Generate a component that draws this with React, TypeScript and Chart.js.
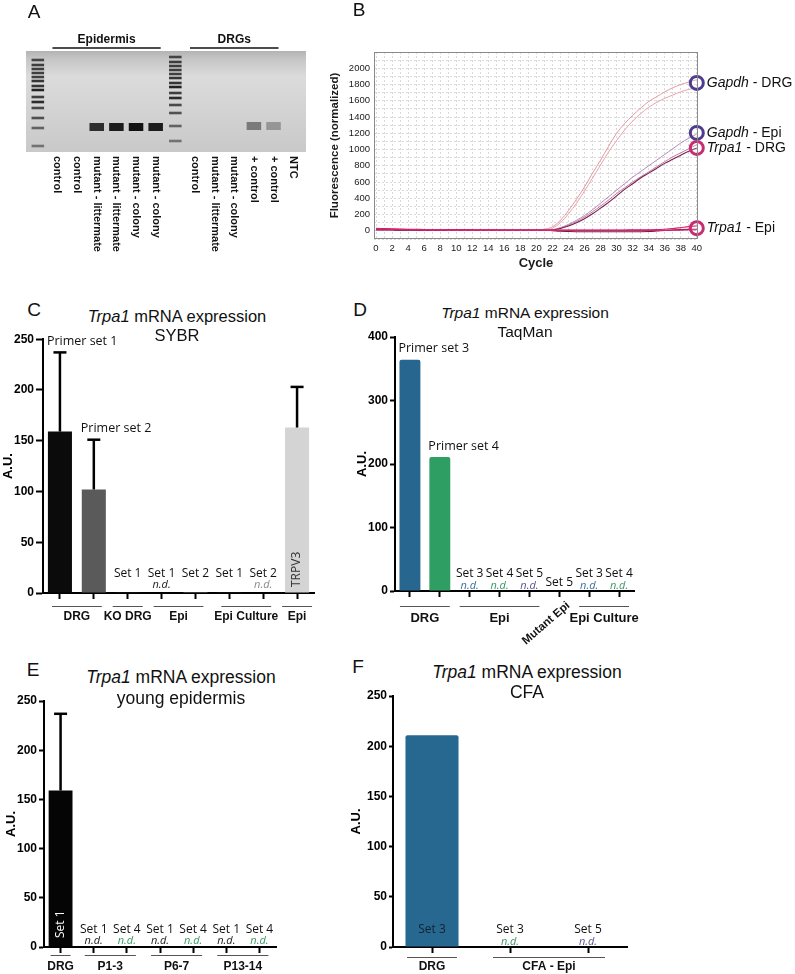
import React, { useEffect, useRef } from "react";
import { Chart, registerables } from "chart.js";
Chart.register(...registerables);

const SANS = '"Liberation Sans", Arial, Helvetica, sans-serif';
const HUM = '"Open Sans", "Noto Sans", sans-serif';

// ---------------- Panel A: gel ----------------
const gelLaneLabels = ["", "control", "control", "mutant - littermate", "mutant - littermate", "mutant - colony", "mutant - colony", "", "control", "mutant - littermate", "mutant - colony", "+ control", "+ control", "NTC"];
const gelHeaderNames = ["Epidermis", "DRGs"];
const gelHeaderStart = [1, 8];
const gelHeaderEnd = [6, 12];
const ladder1Bands = [9, 14, 18, 22, 26, 30, 35, 39, 46, 51, 57, 67, 77, 95];
const ladder2Bands = [6, 11, 15, 19, 23, 27, 32, 36, 42, 47, 54, 62, 75, 90];
const ladderStrength = [0.75, 0.8, 0.8, 0.8, 0.8, 0.85, 0.85, 0.95, 0.8, 0.9, 0.75, 0.7, 0.6, 0.5];
const productBand = [null, null, null, 76, 76, 76, 76, null, null, null, null, 75, 75, null];
const productStrength = [0, 0, 0, 0.85, 0.95, 1, 0.95, 0, 0, 0, 0, 0.45, 0.3, 0];

// ---------------- Panel B: qPCR curves ----------------
const cycles = [0, 1, 2, 3, 4, 5, 6, 7, 8, 9, 10, 11, 12, 13, 14, 15, 16, 17, 18, 19, 20, 21, 22, 23, 24, 25, 26, 27, 28, 29, 30, 31, 32, 33, 34, 35, 36, 37, 38, 39, 40];
const gapdhDrgA = [25, 22, 20, 18, 16, 15, 14, 13, 12, 12, 11, 11, 10, 10, 10, 10, 10, 10, 10, 11, 12, 20, 50, 130, 250, 390, 540, 710, 870, 1040, 1200, 1320, 1420, 1510, 1590, 1650, 1710, 1760, 1800, 1830, 1860];
const gapdhDrgB = [20, 18, 17, 16, 15, 14, 13, 12, 12, 11, 11, 10, 10, 10, 10, 10, 10, 10, 10, 10, 11, 15, 35, 100, 210, 340, 490, 650, 810, 970, 1110, 1240, 1350, 1440, 1520, 1580, 1630, 1670, 1710, 1740, 1760];
const gapdhEpi = [15, 14, 13, 12, 12, 11, 11, 10, 10, 10, 10, 10, 10, 10, 10, 10, 10, 10, 10, 10, 10, 11, 15, 40, 80, 130, 190, 260, 340, 420, 500, 580, 660, 730, 800, 870, 940, 1010, 1080, 1140, 1190];
const trpa1DrgA = [10, 10, 10, 9, 9, 9, 9, 9, 8, 8, 8, 8, 8, 8, 8, 8, 8, 8, 8, 8, 8, 8, 10, 30, 60, 100, 150, 210, 280, 350, 430, 510, 580, 650, 710, 770, 830, 880, 930, 980, 1020];
const trpa1DrgB = [12, 12, 11, 11, 10, 10, 10, 10, 10, 9, 9, 9, 9, 9, 9, 9, 9, 9, 9, 9, 9, 9, 12, 35, 70, 115, 170, 235, 305, 380, 460, 530, 600, 665, 725, 790, 850, 910, 960, 1010, 1060];
const trpa1EpiA = [30, 28, 25, 22, 20, 18, 17, 16, 15, 14, 13, 13, 12, 12, 12, 11, 11, 11, 11, 11, 11, 11, 11, 11, 11, 11, 11, 11, 11, 11, 11, 11, 12, 12, 13, 15, 20, 28, 40, 52, 62];
const trpa1EpiB = [18, 17, 16, 15, 14, 13, 12, 11, 10, 10, 9, 9, 9, 8, 8, 8, 8, 8, 8, 8, 8, 8, 2, -5, -8, -10, -10, -10, -10, -10, -10, -10, -10, -10, -8, -2, 5, 10, 15, 18, 20];
const trpa1EpiC = [22, 20, 18, 16, 14, 12, 10, 9, 8, 7, 6, 6, 5, 5, 5, 5, 5, 5, 5, 5, 5, 5, 5, 5, 5, 5, 5, 5, 5, 5, 5, 5, 5, 5, 5, 6, 7, 8, 10, 12, 14];
const markerGene = ["Gapdh", "Gapdh", "Trpa1", "Trpa1"];
const markerTissue = ["DRG", "Epi", "DRG", "Epi"];
const markerCycle = [40, 40, 40, 40];
const markerY = [1820, 1205, 1020, 33];

// ---------------- Panel C: SYBR ----------------
const cCategories = ["DRG set 1", "DRG set 2", "KO DRG set 1", "Epi set 1", "Epi set 2", "Epi Culture set 1", "Epi Culture set 2", "Epi TRPV3"];
const cValues = [159, 102, 1, 0, 1, 1, 0, 163];
const cErrors = [237, 151, null, null, null, null, null, 203];
const cAnnot = ["Primer set 1", "Primer set 2", "Set 1", "Set 1", "Set 2", "Set 1", "Set 2", "TRPV3"];
const cNotDetected = [false, false, false, true, false, false, true, false];
const cGroupNames = ["DRG", "KO DRG", "Epi", "Epi Culture", "Epi"];
const cGroupStart = [0, 2, 3, 5, 7];
const cGroupEnd = [1, 2, 4, 6, 7];

// ---------------- Panel D: TaqMan ----------------
const dCategories = ["DRG set 3", "DRG set 4", "Epi set 3", "Epi set 4", "Epi set 5", "Mutant Epi set 5", "Epi Culture set 3", "Epi Culture set 4"];
const dValues = [364, 211, 0, 0, 0, 0, 0, 0];
const dErrors = [null, null, null, null, null, null, null, null];
const dAnnot = ["Primer set 3", "Primer set 4", "Set 3", "Set 4", "Set 5", "Set 5", "Set 3", "Set 4"];
const dNotDetected = [false, false, true, true, true, false, true, true];
const dGroupNames = ["DRG", "Epi", "Mutant Epi", "Epi Culture"];
const dGroupStart = [0, 2, 5, 6];
const dGroupEnd = [1, 4, 5, 7];

// ---------------- Panel E: young epidermis ----------------
const eCategories = ["DRG set 1", "P1-3 set 1", "P1-3 set 4", "P6-7 set 1", "P6-7 set 4", "P13-14 set 1", "P13-14 set 4"];
const eValues = [159, 0, 0, 0, 0, 0, 0];
const eErrors = [237, null, null, null, null, null, null];
const eAnnot = ["Set 1", "Set 1", "Set 4", "Set 1", "Set 4", "Set 1", "Set 4"];
const eNotDetected = [false, true, true, true, true, true, true];
const eGroupNames = ["DRG", "P1-3", "P6-7", "P13-14"];
const eGroupStart = [0, 1, 3, 5];
const eGroupEnd = [0, 2, 4, 6];

// ---------------- Panel F: CFA ----------------
const fCategories = ["DRG set 3", "CFA-Epi set 3", "CFA-Epi set 5"];
const fValues = [211, 0, 0];
const fErrors = [null, null, null];
const fAnnot = ["Set 3", "Set 3", "Set 5"];
const fNotDetected = [false, true, true];
const fGroupNames = ["DRG", "CFA - Epi"];
const fGroupStart = [0, 1];
const fGroupEnd = [0, 2];

// ---------------- Styles ----------------
const BLUE = "#27668f";
const GREEN = "#2f9e62";
const ND_BLUE = "#3f6f9f";
const ND_GREEN = "#3a9a68";
const ND_PURPLE = "#5d5596";

type Geo = {
  padL: number; padR: number; padT: number; yW: number; xH: number; titlePad: number; tickLen: number;
  setOff: number; ndOff: number; lowOff: number; lineOff: number; textOff: number; extS: number; extM: number;
  barPct: number; radius: number; rotOff: number; groupFont: number; primerOff: number;
};

type BarSpec = {
  labels: string[]; values: number[]; errors: (number | null)[]; colors: string[];
  annot: string[]; kinds: string[]; nd: boolean[]; ndColors: string[]; inColor: string;
  groupNames: string[]; groupStart: number[]; groupEnd: number[]; groupRot: boolean[];
  yMax: number; yStep: number; geo: Geo;
};

function buildBar(p: BarSpec) {
  const g = p.geo;
  const plugin = {
    id: "annot",
    afterDatasetsDraw(chart: any) {
      const ctx = chart.ctx;
      const xs = chart.scales.x;
      const ys = chart.scales.y;
      const meta = chart.getDatasetMeta(0);
      const axisY = ys.getPixelForValue(0);
      ctx.save();
      p.errors.forEach((e, i) => {
        if (e == null) return;
        const bar = meta.data[i];
        const top = ys.getPixelForValue(e);
        ctx.strokeStyle = "#000";
        ctx.lineWidth = 2.5;
        ctx.lineCap = "butt";
        ctx.beginPath();
        ctx.moveTo(bar.x, bar.y);
        ctx.lineTo(bar.x, top);
        ctx.stroke();
        ctx.beginPath();
        ctx.moveTo(bar.x - 6.5, top);
        ctx.lineTo(bar.x + 6.5, top);
        ctx.stroke();
      });
      p.annot.forEach((txt, i) => {
        const kind = p.kinds[i];
        const bar = meta.data[i];
        const x = xs.getPixelForValue(i);
        ctx.textBaseline = "middle";
        if (kind === "primer") {
          const ref = p.errors[i] ?? p.values[i];
          ctx.font = `12.5px ${HUM}`;
          ctx.fillStyle = "#111";
          ctx.textAlign = "left";
          ctx.fillText(txt, bar.x - bar.width / 2 - 1, ys.getPixelForValue(ref) - g.primerOff);
        } else if (kind === "set" || kind === "setLow") {
          ctx.font = `12px ${HUM}`;
          ctx.fillStyle = "#111";
          ctx.textAlign = "center";
          ctx.fillText(txt, x, axisY - (kind === "setLow" ? g.lowOff : g.setOff));
          if (p.nd[i]) {
            ctx.font = `italic 11px ${HUM}`;
            ctx.fillStyle = p.ndColors[i];
            ctx.fillText("n.d.", x, axisY - g.ndOff);
          }
        } else if (kind === "rotIn") {
          ctx.save();
          ctx.translate(x, axisY - g.rotOff);
          ctx.rotate(-Math.PI / 2);
          ctx.font = `12px ${HUM}`;
          ctx.fillStyle = p.inColor;
          ctx.textAlign = "left";
          ctx.fillText(txt, 0, 0);
          ctx.restore();
        } else if (kind === "in") {
          ctx.font = `12px ${HUM}`;
          ctx.fillStyle = p.inColor;
          ctx.textAlign = "center";
          ctx.fillText(txt, x, axisY - g.setOff);
        }
      });
      p.groupNames.forEach((name, k) => {
        const s = p.groupStart[k];
        const e = p.groupEnd[k];
        ctx.font = `bold ${g.groupFont}px ${SANS}`;
        ctx.fillStyle = "#111";
        if (p.groupRot[k]) {
          ctx.save();
          ctx.translate(xs.getPixelForValue(s) + 9, axisY + 13);
          ctx.rotate((-41 * Math.PI) / 180);
          ctx.textAlign = "right";
          ctx.textBaseline = "middle";
          ctx.font = `bold 11.5px ${SANS}`;
          ctx.fillText(name, 0, 0);
          ctx.restore();
          return;
        }
        const ext = s === e ? g.extS : g.extM;
        const x1 = xs.getPixelForValue(s) - ext;
        const x2 = xs.getPixelForValue(e) + ext;
        ctx.strokeStyle = "#555";
        ctx.lineWidth = 1;
        ctx.beginPath();
        ctx.moveTo(x1, axisY + g.lineOff + 0.5);
        ctx.lineTo(x2, axisY + g.lineOff + 0.5);
        ctx.stroke();
        ctx.textAlign = "center";
        ctx.textBaseline = "middle";
        ctx.fillText(name, (x1 + x2) / 2, axisY + g.textOff);
      });
      ctx.restore();
    },
  };
  return {
    type: "bar",
    data: {
      labels: p.labels,
      datasets: [
        {
          data: p.values,
          backgroundColor: p.colors,
          borderWidth: 0,
          borderRadius: g.radius,
          borderSkipped: "bottom",
          barPercentage: g.barPct,
          categoryPercentage: 1,
        },
      ],
    },
    options: {
      animation: false,
      responsive: false,
      devicePixelRatio: 1,
      events: [],
      layout: { padding: { left: g.padL, right: g.padR, top: g.padT, bottom: 0 } },
      plugins: { legend: { display: false }, tooltip: { enabled: false }, title: { display: false } },
      scales: {
        x: {
          offset: true,
          grid: { offset: false, drawOnChartArea: false, drawTicks: true, tickLength: 6, tickWidth: 2, tickColor: "#000" },
          border: { display: true, color: "#000", width: 2 },
          ticks: { display: false },
          afterFit: (s: any) => { s.height = g.xH; },
        },
        y: {
          min: 0,
          max: p.yMax,
          ticks: { stepSize: p.yStep, color: "#000", font: { family: SANS, size: 12, weight: "bold" }, padding: 2 },
          grid: { drawOnChartArea: false, drawTicks: true, tickLength: g.tickLen, tickWidth: 2, tickColor: "#000" },
          border: { display: true, color: "#000", width: 2 },
          title: { display: true, text: "A.U.", color: "#000", font: { family: SANS, size: 13, weight: "bold" }, padding: { top: g.titlePad, bottom: 0 } },
          afterFit: (s: any) => { s.width = g.yW; },
        },
      },
    },
    plugins: [plugin],
  };
}

function buildGel() {
  const ladderSets = ladder1Bands.map((c1, b) => ({
    data: gelLaneLabels.map((_, i) => (i === 0 ? [c1 - 1.3, c1 + 1.3] : i === 7 ? [ladder2Bands[b] - 1.3, ladder2Bands[b] + 1.3] : null)),
    backgroundColor: `rgba(25,25,25,${ladderStrength[b]})`,
    grouped: false,
    barPercentage: 0.64,
    categoryPercentage: 1,
    borderWidth: 0,
  }));
  const productSet = {
    data: productBand.map((v) => (v == null ? null : [v - 4, v + 4])),
    backgroundColor: productStrength.map((a) => `rgba(18,18,18,${a})`),
    grouped: false,
    barPercentage: 0.74,
    categoryPercentage: 1,
    borderWidth: 0,
  };
  const plugin = {
    id: "gel",
    beforeDatasetsDraw(chart: any) {
      const ctx = chart.ctx;
      const a = chart.chartArea;
      const grad = ctx.createLinearGradient(0, a.top, 0, a.bottom);
      grad.addColorStop(0, "#b3b3b3");
      grad.addColorStop(0.07, "#c4c4c4");
      grad.addColorStop(0.25, "#dbdbdb");
      grad.addColorStop(0.5, "#d5d5d5");
      grad.addColorStop(1, "#c9c9c9");
      ctx.save();
      ctx.fillStyle = grad;
      ctx.fillRect(a.left - 2, a.top, a.right - a.left + 5, a.bottom - a.top);
      ctx.restore();
      ctx.filter = "blur(0.7px)";
    },
    afterDatasetsDraw(chart: any) {
      const ctx = chart.ctx;
      ctx.filter = "none";
      const xs = chart.scales.x;
      const a = chart.chartArea;
      ctx.save();
      ctx.fillStyle = "#111";
      ctx.font = `bold 11px ${SANS}`;
      gelLaneLabels.forEach((lab, i) => {
        if (!lab) return;
        ctx.save();
        ctx.translate(xs.getPixelForValue(i), a.bottom + 4);
        ctx.rotate(Math.PI / 2);
        ctx.textAlign = "left";
        ctx.textBaseline = "middle";
        ctx.fillText(lab, 0, 0);
        ctx.restore();
      });
      gelHeaderNames.forEach((name, k) => {
        const x1 = xs.getPixelForValue(gelHeaderStart[k]) - 5;
        const x2 = xs.getPixelForValue(gelHeaderEnd[k]) + 5;
        ctx.strokeStyle = "#111";
        ctx.lineWidth = 1.5;
        ctx.beginPath();
        ctx.moveTo(x1, a.top - 3);
        ctx.lineTo(x2, a.top - 3);
        ctx.stroke();
        ctx.font = `bold 12px ${SANS}`;
        ctx.textAlign = "center";
        ctx.textBaseline = "middle";
        ctx.fillText(name, (x1 + x2) / 2, a.top - 11);
      });
      ctx.restore();
    },
  };
  return {
    type: "bar",
    data: { labels: gelLaneLabels.map((l, i) => l || `ladder ${i}`), datasets: [...ladderSets, productSet] },
    options: {
      animation: false,
      responsive: false,
      devicePixelRatio: 1,
      events: [],
      layout: { padding: { left: 28, right: 17, top: 51, bottom: 110 } },
      plugins: { legend: { display: false }, tooltip: { enabled: false } },
      scales: {
        x: { display: false, offset: true },
        y: { display: false, min: 0, max: 101, reverse: true },
      },
    },
    plugins: [plugin],
  };
}

function buildCurves() {
  const line = (data: number[], color: string, w = 1) => ({
    data,
    borderColor: color,
    borderWidth: w,
    pointRadius: 0,
    tension: 0.35,
    fill: false,
  });
  const markerColors = markerGene.map((g) => (g === "Gapdh" ? "#4e3d8f" : "#c72c72"));
  const plugin = {
    id: "frame",
    afterDatasetsDraw(chart: any) {
      const ctx = chart.ctx;
      const a = chart.chartArea;
      const xs = chart.scales.x;
      const ys = chart.scales.y;
      ctx.save();
      ctx.strokeStyle = "#8a8a8a";
      ctx.lineWidth = 1;
      ctx.strokeRect(a.left + 0.5, a.top + 0.5, a.right - a.left - 1, a.bottom - a.top - 1);
      ctx.textBaseline = "middle";
      ctx.textAlign = "left";
      ctx.fillStyle = "#111";
      markerGene.forEach((gene, i) => {
        const x = xs.getPixelForValue(markerCycle[i]) + 10;
        const y = ys.getPixelForValue(markerY[i]);
        ctx.font = `italic 14px ${SANS}`;
        ctx.fillText(gene, x, y);
        const w = ctx.measureText(gene).width;
        ctx.font = `14px ${SANS}`;
        ctx.fillText(` - ${markerTissue[i]}`, x + w, y);
      });
      ctx.restore();
    },
  };
  return {
    type: "line",
    data: {
      labels: cycles,
      datasets: [
        {
          data: markerCycle.map((c, i) => ({ x: c, y: markerY[i] })),
          showLine: false,
          pointRadius: 6.5,
          pointBorderWidth: 3,
          pointBorderColor: markerColors,
          pointBackgroundColor: "rgba(255,255,255,0.15)",
          clip: false,
        },
        line(trpa1EpiA, "#d6246e", 1.2),
        line(trpa1EpiC, "#d6246e", 1.2),
        line(trpa1EpiB, "#6a1f45", 1.1),
        line(trpa1DrgA, "#7b1f4e", 1.1),
        line(trpa1DrgB, "#c07aa4", 1),
        line(gapdhEpi, "#b08ab8", 1),
        line(gapdhDrgB, "#e6a3ab", 1),
        line(gapdhDrgA, "#e19aa3", 1),
      ],
    },
    options: {
      animation: false,
      responsive: false,
      devicePixelRatio: 1,
      events: [],
      layout: { padding: { left: 0, right: 97, top: 52, bottom: 0 } },
      plugins: { legend: { display: false }, tooltip: { enabled: false } },
      scales: {
        x: {
          type: "linear",
          min: -0.25,
          max: 40.15,
          ticks: {
            stepSize: 1,
            includeBounds: false,
            autoSkip: false,
            maxRotation: 0,
            padding: 4,
            color: "#1a1a1a",
            font: { family: SANS, size: 9.5 },
            callback: (v: any) => (Number(v) % 2 === 0 ? String(v) : ""),
          },
          grid: { color: "#d9d9d9", lineWidth: 1, drawTicks: false },
          border: { display: false, dash: [2, 2] },
          title: { display: true, text: "Cycle", color: "#1a1a1a", font: { family: SANS, size: 13, weight: "bold" }, padding: { top: 0, bottom: 19 } },
          afterFit: (s: any) => { s.height = 51; },
        },
        y: {
          min: -100,
          max: 2200,
          ticks: {
            stepSize: 100,
            includeBounds: false,
            autoSkip: false,
            padding: 4,
            color: "#1a1a1a",
            font: { family: SANS, size: 9.5 },
            callback: (v: any) => {
              const n = Number(v);
              return n >= 0 && n <= 2000 && n % 200 === 0 ? String(n) : "";
            },
          },
          grid: { color: "#d9d9d9", lineWidth: 1, drawTicks: false },
          border: { display: false, dash: [2, 2] },
          title: { display: true, text: "Fluorescence (normalized)", color: "#1a1a1a", font: { family: SANS, size: 11.5, weight: "bold" }, padding: { top: 8, bottom: 0 } },
          afterFit: (s: any) => { s.width = 54; },
        },
      },
    },
    plugins: [plugin],
  };
}

const specC: BarSpec = {
  labels: cCategories, values: cValues, errors: cErrors,
  colors: ["#0b0b0b", "#5a5a5a", "#1a1a1a", "#1a1a1a", "#6a6a6a", "#1a1a1a", "#6a6a6a", "#d4d4d4"],
  annot: cAnnot, kinds: ["primer", "primer", "set", "set", "set", "set", "set", "rotIn"],
  nd: cNotDetected, ndColors: ["", "", "", "#222", "", "", "#8a8a8a", ""], inColor: "#333",
  groupNames: cGroupNames, groupStart: cGroupStart, groupEnd: cGroupEnd, groupRot: [false, false, false, false, false],
  yMax: 250, yStep: 50,
  geo: { padL: 0, padR: 21, padT: 9, yW: 43, xH: 37, titlePad: 0.5, tickLen: 7, setOff: 19, ndOff: 8, lowOff: 8, lineOff: 13, textOff: 24, extS: 15, extM: 8, barPct: 0.71, radius: 0, rotOff: 6, groupFont: 12, primerOff: 11 },
};

const specD: BarSpec = {
  labels: dCategories, values: dValues, errors: dErrors,
  colors: [BLUE, GREEN, BLUE, GREEN, ND_PURPLE, ND_PURPLE, BLUE, GREEN],
  annot: dAnnot, kinds: ["primer", "primer", "set", "set", "set", "setLow", "set", "set"],
  nd: dNotDetected, ndColors: ["", "", ND_BLUE, ND_GREEN, ND_PURPLE, "", ND_BLUE, ND_GREEN], inColor: "#111",
  groupNames: dGroupNames, groupStart: dGroupStart, groupEnd: dGroupEnd, groupRot: [false, false, true, false],
  yMax: 400, yStep: 100,
  geo: { padL: 15, padR: 6, padT: 12, yW: 40, xH: 59, titlePad: 0, tickLen: 5, setOff: 17, ndOff: 5, lowOff: 8, lineOff: 15, textOff: 27, extS: 15, extM: 10, barPct: 0.7, radius: 2, rotOff: 6, groupFont: 13, primerOff: 11 },
};

const specE: BarSpec = {
  labels: eCategories, values: eValues, errors: eErrors,
  colors: ["#050505", "#050505", "#050505", "#050505", "#050505", "#050505", "#050505"],
  annot: eAnnot, kinds: ["rotIn", "set", "set", "set", "set", "set", "set"],
  nd: eNotDetected, ndColors: ["", "#222", ND_GREEN, "#222", ND_GREEN, "#222", ND_GREEN], inColor: "#ffffff",
  groupNames: eGroupNames, groupStart: eGroupStart, groupEnd: eGroupEnd, groupRot: [false, false, false, false],
  yMax: 250, yStep: 50,
  geo: { padL: 0, padR: 24, padT: 11, yW: 44, xH: 27, titlePad: 4, tickLen: 5, setOff: 17, ndOff: 6, lowOff: 8, lineOff: 8, textOff: 20, extS: 10, extM: 9, barPct: 0.72, radius: 0, rotOff: 9, groupFont: 12, primerOff: 11 },
};

const specF: BarSpec = {
  labels: fCategories, values: fValues, errors: fErrors,
  colors: ["#276891", "#276891", "#276891"],
  annot: fAnnot, kinds: ["in", "set", "set"],
  nd: fNotDetected, ndColors: ["", ND_GREEN, ND_PURPLE], inColor: "#15222f",
  groupNames: fGroupNames, groupStart: fGroupStart, groupEnd: fGroupEnd, groupRot: [false, false],
  yMax: 250, yStep: 50,
  geo: { padL: 5, padR: 13, padT: 10, yW: 48, xH: 27, titlePad: 4, tickLen: 4, setOff: 17, ndOff: 5, lowOff: 8, lineOff: 10, textOff: 20, extS: 25, extM: 17, barPct: 0.68, radius: 2, rotOff: 6, groupFont: 12, primerOff: 11 },
};

function ChartBox(props: { left: number; top: number; width: number; height: number; build: () => any }) {
  const ref = useRef<HTMLCanvasElement>(null);
  useEffect(() => {
    const chart = new Chart(ref.current as HTMLCanvasElement, props.build());
    return () => chart.destroy();
  }, []);
  return (
    <div style={{ position: "absolute", left: props.left, top: props.top, width: props.width, height: props.height }}>
      <canvas ref={ref} width={props.width} height={props.height} style={{ width: props.width, height: props.height, display: "block" }} />
    </div>
  );
}

function Letter(props: { x: number; y: number; children: React.ReactNode }) {
  return (
    <div style={{ position: "absolute", left: props.x - 15, top: props.y - 12, width: 30, height: 24, lineHeight: "24px", textAlign: "center", fontSize: 19, fontFamily: SANS, color: "#111" }}>
      {props.children}
    </div>
  );
}

function Title(props: { cx: number; y1: number; y2: number; size: number; line2: string }) {
  const lh = Math.round(props.size * 1.2);
  const common: React.CSSProperties = {
    position: "absolute", left: props.cx - 150, width: 300, textAlign: "center", fontSize: props.size,
    lineHeight: `${lh}px`, whiteSpace: "nowrap", color: "#111", fontFamily: SANS,
  };
  return (
    <>
      <div style={{ ...common, top: props.y1 - lh / 2 }}><i>Trpa1</i> mRNA expression</div>
      <div style={{ ...common, top: props.y2 - lh / 2 }}>{props.line2}</div>
    </>
  );
}

export default function App() {
  return (
    <div style={{ position: "absolute", left: 0, top: 0, width: 795, height: 974, background: "#fff", overflow: "hidden", fontFamily: SANS }}>
      <ChartBox left={0} top={0} width={320} height={262} build={buildGel} />
      <ChartBox left={320} top={0} width={475} height={290} build={buildCurves} />
      <ChartBox left={0} top={330} width={335} height={300} build={() => buildBar(specC)} />
      <ChartBox left={340} top={325} width={300} height={325} build={() => buildBar(specD)} />
      <ChartBox left={0} top={690} width={300} height={284} build={() => buildBar(specE)} />
      <ChartBox left={340} top={686} width={300} height={288} build={() => buildBar(specF)} />
      <Letter x={34} y={12}>A</Letter>
      <Letter x={359} y={10}>B</Letter>
      <Letter x={34} y={310}>C</Letter>
      <Letter x={360} y={310}>D</Letter>
      <Letter x={33} y={670}>E</Letter>
      <Letter x={358} y={667}>F</Letter>
      <Title cx={177} y1={316} y2={335} size={16.5} line2="SYBR" />
      <Title cx={525} y1={312} y2={331} size={15.5} line2="TaqMan" />
      <Title cx={181} y1={677} y2={698} size={17.5} line2="young epidermis" />
      <Title cx={527} y1={672} y2={692} size={17.5} line2="CFA" />
    </div>
  );
}
